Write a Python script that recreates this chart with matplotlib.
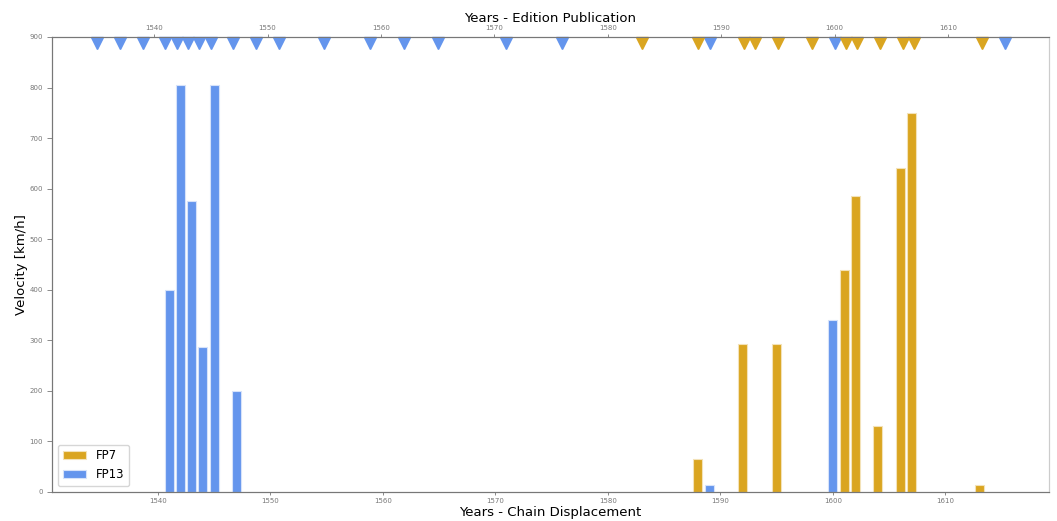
import numpy as np
import matplotlib
matplotlib.use("Agg")
import matplotlib.pyplot as plt

# chain displacement bars
fp13_years = [1541, 1542, 1543, 1544, 1545, 1547, 1589, 1600]
fp13_vel = [400, 805, 575, 287, 805, 200, 14, 340]
fp7_years = [1588, 1592, 1595, 1601, 1602, 1604, 1606, 1607, 1613]
fp7_vel = [65, 292, 292, 440, 585, 130, 641, 749, 13]

# edition publication years (top markers)
fp13_editions = [1535, 1537, 1539, 1541, 1542, 1543, 1544, 1545, 1547, 1549, 1551,
                 1555, 1559, 1562, 1565, 1571, 1576, 1589, 1600, 1615]
fp7_editions = [1583, 1588, 1592, 1593, 1595, 1598, 1601, 1602, 1604, 1606, 1607, 1613]

blue = "#6495ED"
gold = "#DAA520"

fig = plt.figure(figsize=(10.57, 5.21), dpi=100)
ax = fig.add_axes([0.0492, 0.0557, 0.9432, 0.8733])

ax.bar(fp7_years, fp7_vel, width=0.8, color=gold, edgecolor="#f3e2b8", lw=0.8, label="FP7")
ax.bar(fp13_years, fp13_vel, width=0.8, color=blue, edgecolor="#d6e2fa", lw=0.8, label="FP13")

ax.set_xlim(1530.6, 1619.2)
ax.set_ylim(0, 900)
ax.set_xticks(np.arange(1540, 1611, 10))
ax.set_yticks(np.arange(0, 901, 100))
ax.set_xlabel("Years - Chain Displacement", fontsize=9.5, labelpad=1.5)
ax.set_ylabel("Velocity [km/h]", fontsize=9.5, labelpad=1)
ax.tick_params(axis="x", labelsize=5, colors="#777777", length=2, width=0.6, pad=2.5)
ax.tick_params(axis="y", labelsize=5, colors="#777777", length=3.5, width=0.6, pad=3)
ax.legend(loc="lower left", fontsize=8.5, frameon=True)

top = ax.twiny()
top.set_xlim(1531.0, 1618.9)
top.plot(fp13_editions, [889] * len(fp13_editions), "v", color=blue, ms=8, clip_on=False)
top.plot(fp7_editions, [889] * len(fp7_editions), "v", color=gold, ms=8, clip_on=False)
top.set_xticks(np.arange(1540, 1611, 10))
top.set_xlabel("Years - Edition Publication", fontsize=9.5, labelpad=2)
top.tick_params(labelsize=5, colors="#777777", length=2, width=0.6, pad=2.5)

for a in (ax, top):
    for s in a.spines.values():
        s.set_color("#777777")
        s.set_linewidth(0.8)
    a.spines["right"].set_color("#cccccc")

fig.savefig("out.png", dpi=100)
